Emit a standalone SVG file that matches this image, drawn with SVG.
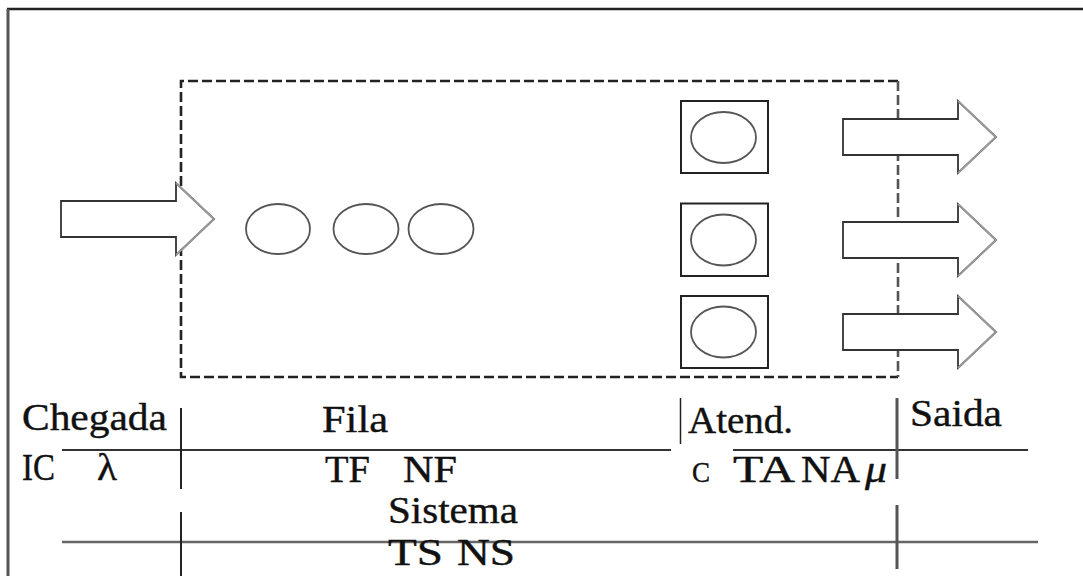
<svg xmlns="http://www.w3.org/2000/svg" width="1083" height="576" viewBox="0 0 1083 576">
  <style>
    .frame-top { stroke: #222; stroke-width: 2.5; fill: none; }
    .frame-left { stroke: #555; stroke-width: 3; fill: none; }
    .boundary { fill: none; stroke: #222; stroke-width: 2.6; stroke-dasharray: 10 4; }
    .boundary-r { fill: none; stroke: #555; stroke-width: 2.6; stroke-dasharray: 10 4; }
    .client { fill: #fff; stroke: #555; stroke-width: 1.8; }
    .server { fill: #fff; stroke: #222; stroke-width: 2; }
    .arrow { fill: #fff; stroke: #333; stroke-width: 1.8; stroke-linejoin: miter; }
    .arrow-tip { fill: none; stroke: #9a9a9a; stroke-width: 1.8; }
    .rule { stroke: #333; stroke-width: 2; }
    .rule-g { stroke: #666; stroke-width: 2.5; }
    .bar { stroke: #222; stroke-width: 2; }
    .bar-g { stroke: #555; stroke-width: 3; }
    .bar-thin { stroke: #222; stroke-width: 1.5; }
    .lbl { font-family: "Liberation Serif", "DejaVu Serif", serif; font-size: 38px; fill: #111; stroke: #111; stroke-width: 0.4; }
    .small { font-size: 30px; }
  </style>
  <defs>
    <!-- block arrow: shaft 115 long, 36 high; head 38 deep, 72 high -->
    <g id="block-arrow">
      <polygon class="arrow" points="0,-18 115,-18 115,-36 153,0 115,36 115,18 0,18"/>
      <polyline class="arrow-tip" points="115,-36 153,0 115,36"/>
    </g>
  </defs>

  <rect width="1083" height="576" fill="#fff"/>

  <!-- outer frame -->
  <g id="frame">
    <line class="frame-top" x1="7" y1="9" x2="1083" y2="9"/>
    <line class="frame-left" x1="8" y1="9" x2="8" y2="576"/>
  </g>

  <!-- system boundary -->
  <g id="system">
    <polyline class="boundary" points="898,81 181,81 181,377 898,377"/>
    <line class="boundary-r" x1="898" y1="81" x2="898" y2="377"/>
  </g>

  <!-- waiting line -->
  <g id="queue">
    <ellipse class="client" cx="278" cy="229" rx="32" ry="25"/>
    <ellipse class="client" cx="366" cy="229" rx="32.5" ry="25"/>
    <ellipse class="client" cx="441" cy="229" rx="32.5" ry="25"/>
  </g>

  <!-- service stations -->
  <g id="server-1">
    <rect class="server" x="681" y="101" width="87" height="72"/>
    <ellipse class="client" cx="723.5" cy="137.5" rx="32.5" ry="25.5"/>
  </g>
  <g id="server-2">
    <rect class="server" x="681" y="203.5" width="87" height="72.5"/>
    <ellipse class="client" cx="723.5" cy="240" rx="32.5" ry="25.5"/>
  </g>
  <g id="server-3">
    <rect class="server" x="681" y="296" width="87" height="72"/>
    <ellipse class="client" cx="723.5" cy="332" rx="32.5" ry="25.5"/>
  </g>

  <!-- arrival and departure flows -->
  <g id="connectors">
    <g transform="translate(61,219)">
      <polygon class="arrow" points="0,-18 115,-18 115,-36 153,0 115,36 115,18 0,18"/>
      <polyline class="arrow-tip" points="115,-36 153,0 115,36"/>
    </g>
    <use href="#block-arrow" transform="translate(843,137)"/>
    <use href="#block-arrow" transform="translate(843,240)"/>
    <use href="#block-arrow" transform="translate(843,332)"/>
  </g>

  <!-- measures table -->
  <g id="table">
    <line class="rule" x1="62" y1="450" x2="671" y2="450"/>
    <line class="rule" x1="733" y1="450" x2="1028" y2="450"/>
    <line class="rule-g" x1="62" y1="542" x2="1038" y2="542"/>

    <line class="bar" x1="181" y1="408" x2="181" y2="489"/>
    <line class="bar" x1="181" y1="512" x2="181" y2="576"/>
    <line class="bar-thin" x1="680.5" y1="398" x2="680.5" y2="444"/>
    <line class="bar-g" x1="897" y1="398" x2="897" y2="479"/>
    <line class="bar-g" x1="897" y1="505" x2="897" y2="569"/>
  </g>

  <g id="labels" font-family="Liberation Serif, DejaVu Serif, serif">
    <text class="lbl" x="22" y="430" textLength="145" lengthAdjust="spacingAndGlyphs">Chegada</text>
    <text class="lbl" x="22" y="480" textLength="33" lengthAdjust="spacingAndGlyphs">IC</text>
    <text class="lbl" x="97" y="480" textLength="20" lengthAdjust="spacingAndGlyphs">λ</text>

    <text class="lbl" x="322" y="432" textLength="66" lengthAdjust="spacingAndGlyphs">Fila</text>
    <text class="lbl" x="325" y="482" textLength="45" lengthAdjust="spacingAndGlyphs">TF</text>
    <text class="lbl" x="403" y="482" textLength="54" lengthAdjust="spacingAndGlyphs">NF</text>

    <text class="lbl" x="688" y="433" textLength="105" lengthAdjust="spacingAndGlyphs">Atend.</text>
    <text class="lbl small" x="692" y="482" textLength="18" lengthAdjust="spacingAndGlyphs">C</text>
    <text class="lbl" x="733" y="482" textLength="62" lengthAdjust="spacingAndGlyphs">TA</text>
    <text class="lbl" x="801" y="482" textLength="59" lengthAdjust="spacingAndGlyphs">NA</text>
    <text class="lbl" x="865" y="482" font-style="italic" textLength="22" lengthAdjust="spacingAndGlyphs">μ</text>

    <text class="lbl" x="910" y="426" textLength="92" lengthAdjust="spacingAndGlyphs">Saida</text>

    <text class="lbl" x="388" y="523" textLength="130" lengthAdjust="spacingAndGlyphs">Sistema</text>
    <text class="lbl" x="388" y="565" textLength="55" lengthAdjust="spacingAndGlyphs">TS</text>
    <text class="lbl" x="457" y="565" textLength="58" lengthAdjust="spacingAndGlyphs">NS</text>
  </g>
</svg>
